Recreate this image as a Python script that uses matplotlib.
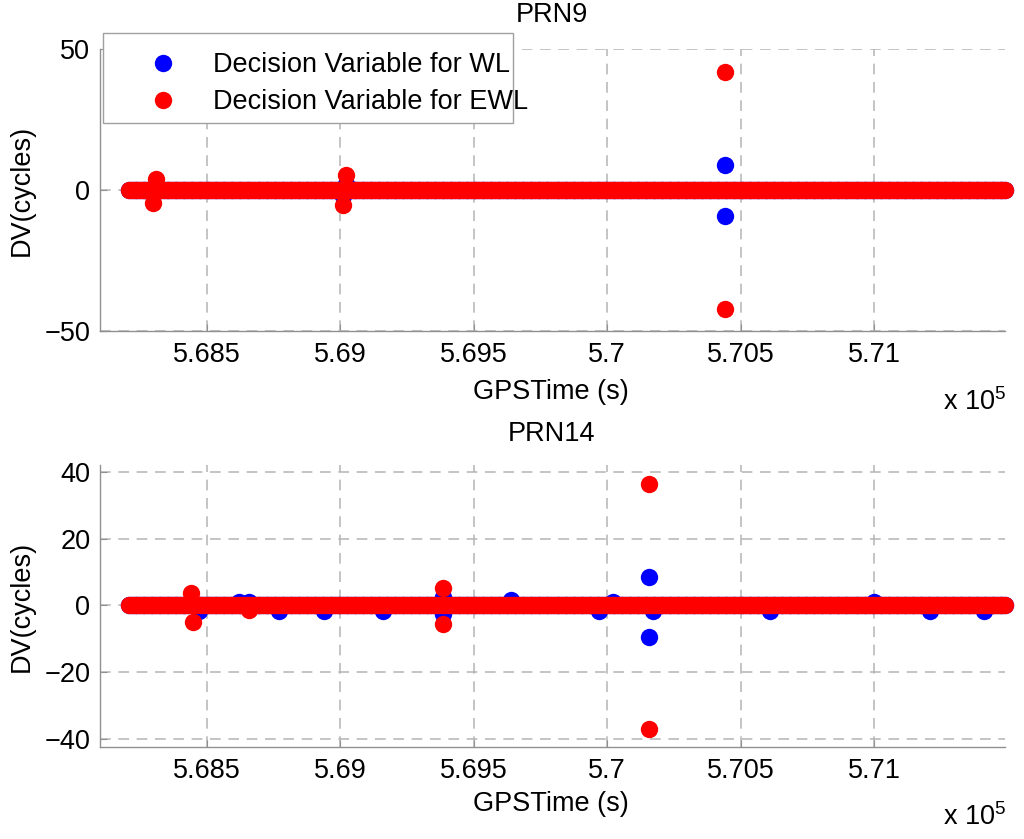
import numpy as np
import matplotlib
matplotlib.use('Agg')
import matplotlib.pyplot as plt
from matplotlib.patches import Rectangle
from matplotlib.lines import Line2D

plt.rcParams['font.family'] = ['Liberation Sans', 'DejaVu Sans']
plt.rcParams['mathtext.fontset'] = 'custom'
plt.rcParams['mathtext.rm'] = 'Liberation Sans'

# epochs (GPS seconds of week), same for both satellites
t_start = 568210
t_end = 571490
t_step = 10

# decision variable outliers: (epoch, value in cycles)
# everything else sits on 0
prn9_wl = [(569010, -2.0), (569020, 2.0), (570440, 8.9), (570440, -9.2)]
prn9_ewl = [(568300, -4.5), (568310, 3.8), (569010, -5.3), (569020, 5.3),
            (570440, 41.9), (570440, -42.2)]

prn14_wl = [(568440, 1.5), (568470, -1.5), (568620, 1.0), (568660, 1.0), (568770, -1.5),
            (568940, -1.5), (569160, -1.5), (569385, 2.4), (569385, -2.4),
            (569640, 1.5), (569970, -1.5), (570020, 1.0), (570155, 8.4), (570155, -9.3),
            (570170, -1.5), (570610, -1.5), (571000, 1.0), (571210, -1.5), (571410, -1.5)]
prn14_ewl = [(568440, 3.7), (568450, -4.8), (568660, -1.2), (569385, 5.1), (569385, -5.4),
             (570155, 36.5), (570155, -37.1)]

xticks = [568500, 569000, 569500, 570000, 570500, 571000]
xticklabels = ['5.685', '5.69', '5.695', '5.7', '5.705', '5.71']
xlim = (568100, 571490)

blue = '#0000ff'
red = '#ff0000'
gray = '#909090'
gridgray = '#b4b4b4'
fs = 19.5
ms = 12.5


def series(outliers):
    t = np.arange(t_start, t_end + 1, t_step)
    v = np.zeros(len(t))
    ot = np.array([p[0] for p in outliers])
    ov = np.array([p[1] for p in outliers])
    return np.concatenate([t, ot]), np.concatenate([v, ov])


fig = plt.figure(figsize=(10.24, 8.39), dpi=100)
W, H = 1024.0, 839.0


def make_ax(top_px, bot_px, ylim, yticks, wl, ewl, title, title_y, xlab_y, mult_y, ylab_y):
    ax = fig.add_axes([100 / W, 1 - bot_px / H, 905 / W, (bot_px - top_px) / H])
    t, v = series(wl)
    ax.plot(t, v, 'o', color=blue, ms=ms, mec='none', clip_on=False,
            label='Decision Variable for WL')
    t, v = series(ewl)
    ax.plot(t, v, 'o', color=red, ms=ms, mec='none', clip_on=False,
            label='Decision Variable for EWL')
    ax.set_xlim(*xlim)
    ax.set_ylim(*ylim)
    ax.set_xticks(xticks)
    ax.set_xticklabels(xticklabels)
    ax.set_yticks(yticks)
    ax.set_axisbelow(True)
    ax.grid(True, color=gridgray, linestyle=(0, (7, 5)), linewidth=1.1)
    for s in ['top', 'right']:
        ax.spines[s].set_visible(False)
    for s in ['left', 'bottom']:
        ax.spines[s].set_color(gray)
        ax.spines[s].set_linewidth(1.0)
    ax.tick_params(direction='in', length=5, color=gray, labelsize=fs, pad=7)
    ax.tick_params(axis='x', pad=8)
    ax.patch.set_alpha(0)
    fig.text(552 / W, 1 - title_y / H, title, ha='center', va='center', fontsize=fs)
    fig.text(551 / W, 1 - xlab_y / H, 'GPSTime (s)', ha='center', va='center', fontsize=fs)
    fig.text(22 / W, 1 - ylab_y / H, 'DV(cycles)', ha='center', va='center', rotation=90, fontsize=fs)
    fig.text(943 / W, 1 - mult_y / H, r'x 10$^5$', ha='left', va='center', fontsize=fs)
    return ax


ax1 = make_ax(49, 331, (-50, 50), [-50, 0, 50], prn9_wl, prn9_ewl, 'PRN9', 15, 392, 402, 190)
ax2 = make_ax(465, 747, (-42.4, 42.1), [-40, -20, 0, 20, 40], prn14_wl, prn14_ewl, 'PRN14', 434, 804, 817, 606)

# legend box, drawn on the figure above the top axes
box = Rectangle((103 / W, 1 - 123 / H), 410 / W, 90 / H, transform=fig.transFigure,
                facecolor='white', edgecolor='#a0a0a0', linewidth=1.0, zorder=4)
fig.patches.append(box)
handles = [Line2D([], [], marker='o', ls='none', color=blue, ms=ms, mec='none'),
           Line2D([], [], marker='o', ls='none', color=red, ms=ms, mec='none')]
leg = fig.legend(handles, ['Decision Variable for WL', 'Decision Variable for EWL'],
                 loc='upper left', bbox_to_anchor=(136 / W, 1 - 52 / H), frameon=False,
                 fontsize=fs, borderpad=0, borderaxespad=0, handlelength=2.0,
                 handletextpad=0.85, labelspacing=0.42)
leg.set_zorder(5)

plt.savefig('out.png', dpi=100)
